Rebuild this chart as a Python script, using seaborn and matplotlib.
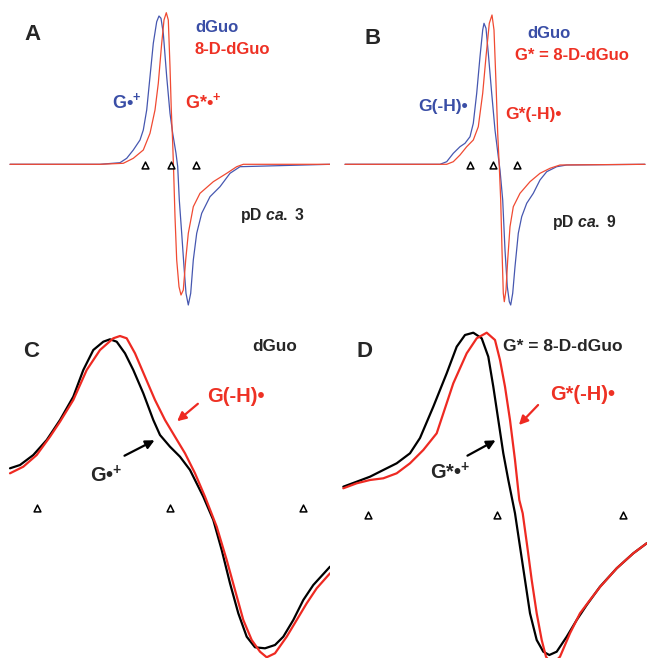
import numpy as np
import pandas as pd
import matplotlib
matplotlib.use('Agg')
import matplotlib.pyplot as plt
import seaborn as sns

# Spectra, in picture pixel units (x = field, y = signal, down is +)
a_blue_x = [10, 100, 120, 126.7, 133.3, 140, 143.3, 146.7, 150, 153.3, 156.7, 159, 161, 163.3, 166.7, 170,
            172.7, 176, 177.7, 179.3, 181.7, 184, 186, 188.3, 190.7, 193.3, 196.7, 201.7, 210, 220, 230, 240, 330]
a_blue_y = [164.3, 164.3, 162.7, 158.3, 150, 140, 130, 110, 76.7, 43.3, 21.7, 16, 18.3, 33.3, 76.7, 113.3,
            133.3, 153.3, 166.7, 200, 233.3, 266.7, 293.3, 305, 293.3, 260, 233.3, 213.3, 196.7, 186.7, 173.3,
            166.7, 164.3]
a_red_x = [10, 100, 123.3, 133.3, 143.3, 150, 155, 158.3, 161.7, 164, 166.3, 168.3, 170, 171.3, 172.7, 173.7,
           175, 176.7, 179, 181, 183.3, 185.7, 188.3, 193.3, 200, 213.3, 226.7, 236.7, 243.3, 330]
a_red_y = [164.3, 164.3, 163.3, 158.3, 150, 133.3, 110, 83.3, 43.3, 20, 12.7, 20, 66.7, 110, 143.3, 173.3,
           216.7, 260, 286.7, 295, 290, 260, 233.3, 206.7, 193.3, 181.7, 173.3, 166.7, 164.3, 164.3]

b_blue_x = [345, 440, 446.7, 453.3, 460, 465, 470, 473.3, 476.7, 480, 482.7, 484, 486, 488.3, 491.7, 495, 498.3,
            500, 502.7, 505, 507.3, 509.3, 510.7, 512.7, 515, 518.3, 521.7, 526.7, 533.3, 540, 546.7, 556.7,
            566.7, 645]
b_blue_y = [164.3, 164.3, 161.7, 153.3, 146.7, 143.3, 136.7, 123.3, 93.3, 56.7, 30, 23.3, 28.3, 53.3, 93.3, 130,
            156.7, 170, 200, 250, 286.7, 301.7, 305, 293.3, 266.7, 233.3, 216.7, 203.3, 193.3, 180, 171.7, 166.7,
            165, 164.3]
b_red_x = [345, 446.7, 453.3, 460, 466.7, 473.3, 478.3, 482.7, 486, 489.3, 492, 494, 496, 497.7, 499.3, 500.7,
           502, 503.3, 504.3, 506, 507.7, 510, 513.3, 520, 530, 540, 550, 560, 645]
b_red_y = [164.3, 164.3, 161.7, 155, 146.7, 140, 126.7, 93.3, 56.7, 23.3, 15, 30, 83.3, 133.3, 166.7, 200,
           250, 293.3, 301.7, 290, 260, 226.7, 206.7, 193.3, 181.7, 173.3, 168.3, 165, 164.3]

c_black_x = [10, 20, 33.3, 46.7, 60, 73.3, 83.3, 93.3, 103.3, 110, 116.7, 125, 133.3, 143.3, 153.3, 160, 170,
             180, 190, 203.3, 213.3, 221.7, 230, 238.3, 246.7, 255, 265, 275, 283.3, 293.3, 303.3, 313.3, 330]
c_black_y = [468.3, 465, 455, 440, 420, 396.7, 370, 350, 341.7, 339.3, 341.7, 353.3, 370, 393.3, 420, 435,
             446.7, 456.7, 470, 496.7, 520, 550, 583.3, 613.3, 636.7, 647.3, 648.3, 645, 636.7, 620, 600, 585,
             566.7]
c_red_x = [10, 23.3, 36.7, 50, 60, 73.3, 86.7, 100, 113.3, 120, 126.7, 135, 145, 155, 165, 175, 185, 195,
           205, 216.7, 226.7, 235, 243.3, 251.7, 260, 266.7, 275, 286.7, 296.7, 306.7, 316.7, 330]
c_red_y = [473.3, 466.7, 455, 436.7, 421.7, 400, 370, 350, 338.3, 336, 338.3, 353.3, 376.7, 400, 420, 436.7,
           453.3, 473.3, 496.7, 526.7, 560, 590, 620, 640, 651.7, 657.3, 653.3, 636.7, 620, 603.3, 588.3, 573.3]

d_black_x = [343.3, 356.7, 370, 383.3, 396.7, 410, 420, 433.3, 446.7, 456.7, 465, 473.3, 481.7, 488.3, 493.3,
             498.3, 503.3, 508.3, 515, 520, 525, 530, 536.7, 543.3, 549.3, 556.7, 566.7, 576.7, 586.7, 600,
             616.7, 633.3, 646.7]
d_black_y = [486.7, 481.7, 476.7, 470, 463.3, 453.3, 438, 406.7, 373.3, 346.7, 335, 332.7, 338.3, 356.7, 386.7,
             420, 453.3, 480, 513.3, 546.7, 580, 613.3, 640, 651.7, 655, 651.7, 636.7, 620, 605, 586.7,
             568.3, 553.3, 543.3]
d_red_x = [343.3, 356.7, 370, 383.3, 396.7, 410, 423.3, 436.7, 453.3, 466.7, 476.7, 486.7, 495, 500, 505, 510,
           515, 519.3, 522.7, 527.3, 531.7, 536.7, 541.7, 546, 552, 560, 570, 580, 590, 600, 616.7, 633.3, 646.7]
d_red_y = [488.3, 483.3, 480, 478.3, 473.3, 463.3, 450, 433.3, 383.3, 353.3, 338.3, 332.7, 340, 360, 386.7, 420,
           460, 500, 513.3, 546.7, 580, 613.3, 640, 656.7, 665, 656.7, 633.3, 613.3, 600, 587, 568.3, 553.3, 543.3]

# open triangles marking field positions
tri_a_x = [145, 171, 196]
tri_b_x = [470, 493, 517]
tri_c_x = [37, 170, 303]
tri_d_x = [368, 497, 623]

BLUE = '#4657b0'
RED = '#f04a32'
BLUE_T = '#3a4ea6'
RED_T = '#ee3124'
RED_CD = '#ee2a22'

sns.set_style('white')
plt.rcParams['font.family'] = ['Liberation Sans', 'DejaVu Sans']
plt.rcParams['font.weight'] = 'bold'
plt.rcParams['mathtext.fontset'] = 'custom'
plt.rcParams['mathtext.rm'] = 'Liberation Sans:bold'
plt.rcParams['mathtext.bf'] = 'Liberation Sans:bold'
plt.rcParams['mathtext.it'] = 'Liberation Sans:italic'

W, H = 647, 658
fig = plt.figure(figsize=(W / 100, H / 100), dpi=100)


def panel(x0, x1, y0, y1):
    ax = fig.add_axes([x0 / W, 1 - y1 / H, (x1 - x0) / W, (y1 - y0) / H])
    ax.set_xlim(x0, x1)
    ax.set_ylim(y1, y0)
    ax.axis('off')
    return ax


def trace(ax, xs, ys, color, lw):
    df = pd.DataFrame({'x': xs, 'y': ys})
    sns.lineplot(data=df, x='x', y='y', ax=ax, color=color, lw=lw, sort=False, estimator=None)


def triangles(ax, xs, y):
    sns.scatterplot(x=xs, y=[y] * len(xs), ax=ax, marker='^', s=24, facecolor='white',
                    edgecolor='black', linewidth=1.1, zorder=5)


def arrow(ax, tail, head, color):
    ax.annotate('', xy=head, xytext=tail,
                arrowprops=dict(arrowstyle='-|>', color=color, lw=1.6, mutation_scale=13))


# A
axA = panel(0, 330, 0, 320)
trace(axA, a_blue_x, a_blue_y, BLUE, 0.9)
trace(axA, a_red_x, a_red_y, RED, 0.9)
triangles(axA, tri_a_x, 165)
axA.text(24, 35, 'A', fontsize=16, va='center')
axA.text(195, 28, 'dGuo', color=BLUE_T, fontsize=12, va='center')
axA.text(195, 49, '8-D-dGuo', color=RED_T, fontsize=12, va='center')
axA.text(112, 102, 'G•$^{+}$', color=BLUE_T, fontsize=13, va='center')
axA.text(185, 102, 'G*•$^{+}$', color=RED_T, fontsize=13, va='center')
axA.text(240, 215, 'pD $\\mathit{ca.}$ 3', fontsize=11.3, va='center')

# B
axB = panel(330, 647, 0, 320)
trace(axB, b_blue_x, b_blue_y, BLUE, 0.9)
trace(axB, b_red_x, b_red_y, RED, 0.9)
triangles(axB, tri_b_x, 165)
axB.text(365, 38, 'B', fontsize=16, va='center')
axB.text(527, 33, 'dGuo', color=BLUE_T, fontsize=12, va='center')
axB.text(515, 55, 'G* = 8-D-dGuo', color=RED_T, fontsize=12, va='center')
axB.text(418, 107, 'G(-H)•', color=BLUE_T, fontsize=12.5, va='center')
axB.text(505, 114, 'G*(-H)•', color=RED_T, fontsize=12.5, va='center')
axB.text(552, 222, 'pD $\\mathit{ca.}$ 9', fontsize=11.3, va='center')

# C
axC = panel(0, 330, 320, 658)
trace(axC, c_black_x, c_black_y, 'black', 1.6)
trace(axC, c_red_x, c_red_y, RED_CD, 1.6)
triangles(axC, tri_c_x, 508)
axC.text(23, 352, 'C', fontsize=16, va='center')
axC.text(252, 347, 'dGuo', fontsize=12.3, va='center')
axC.text(207, 397, 'G(-H)•', color=RED_T, fontsize=14.5, va='center')
axC.text(90, 476, 'G•$^{+}$', fontsize=14.4, va='center')
arrow(axC, (200, 402), (175, 423), RED_CD)
arrow(axC, (122, 457), (157, 439), 'black')

# D
axD = panel(330, 647, 320, 658)
trace(axD, d_black_x, d_black_y, 'black', 1.6)
trace(axD, d_red_x, d_red_y, RED_CD, 1.6)
triangles(axD, tri_d_x, 515)
axD.text(357, 352, 'D', fontsize=16, va='center')
axD.text(503, 347, 'G* = 8-D-dGuo', fontsize=12.5, va='center')
axD.text(550, 395, 'G*(-H)•', color=RED_T, fontsize=14.4, va='center')
axD.text(430, 473, 'G*•$^{+}$', fontsize=14.4, va='center')
arrow(axD, (540, 403), (517, 427), RED_CD)
arrow(axD, (465, 457), (498, 439), 'black')

fig.savefig('out.png', dpi=100)
